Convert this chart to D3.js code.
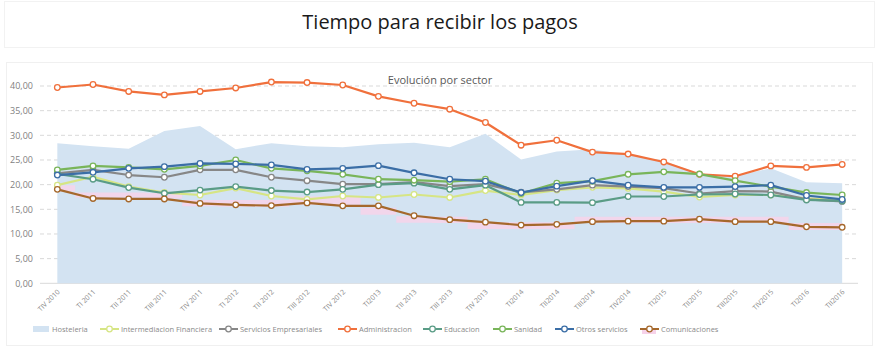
<!DOCTYPE html>
<html><head><meta charset="utf-8">
<script src="https://cdn.jsdelivr.net/npm/d3@7"></script>
<style>body{margin:0;background:#fff}svg{display:block;font-family:"Open Sans",sans-serif}</style>
</head><body><svg id="c" width="880" height="350"></svg>
<script>
const categories = ["TIV 2010","TI 2011","TII 2011","TIII 2011","TIV 2011","TI 2012","TII 2012","TIII 2012","TIV 2012","TI2013","TII 2013","TIII 2013","TIV 2013","TI2014","TII2014","TIII2014","TIV2014","TI2015","TII2015","TIII2015","TIV2015","TI2016","TII2016"];
const hosteleria = [28.4,27.8,27.3,30.9,31.9,27.2,28.4,27.8,27.6,28.2,28.5,27.6,30.3,25.1,26.7,27.2,26.0,24.8,22.2,21.8,23.3,20.5,20.3];
const intermediacion = [19.9,21.6,19.6,18.4,17.9,19.3,17.7,17.0,17.7,17.4,18.0,17.4,18.8,17.9,18.9,19.45,19.25,18.6,17.5,17.9,17.9,17.2,16.8];
const servicios = [22.3,23.0,21.95,21.5,23.0,23.0,21.5,20.8,20.1,20.1,20.5,19.7,20.1,18.45,19.05,19.9,19.6,19.3,18.2,18.7,18.6,17.0,16.6];
const administracion = [39.7,40.3,38.9,38.2,38.9,39.6,40.8,40.7,40.2,37.9,36.5,35.3,32.6,28.0,29.0,26.6,26.2,24.6,22.1,21.7,23.8,23.5,24.1];
const educacion = [22.2,21.1,19.4,18.25,18.9,19.6,18.8,18.5,19.05,20.0,20.3,19.05,19.9,16.4,16.4,16.35,17.6,17.6,18.0,18.1,17.9,16.9,16.7];
const sanidad = [23.0,23.8,23.5,23.1,23.8,25.0,23.3,22.8,22.1,21.1,20.9,20.6,21.1,18.2,20.3,20.7,22.1,22.6,22.15,20.8,19.6,18.4,17.9];
const otros = [21.95,22.5,23.3,23.65,24.3,24.2,24.0,23.1,23.3,23.85,22.4,21.1,20.7,18.4,19.7,20.8,19.9,19.45,19.45,19.6,19.9,17.8,17.0];
const comunicaciones = [19.05,17.2,17.1,17.1,16.2,15.9,15.75,16.3,15.7,15.7,13.7,12.9,12.4,11.8,11.95,12.5,12.6,12.6,13.0,12.5,12.5,11.45,11.35];
const sombraBaja = [18.6,17.4,17.4,17.2,15.6,15.5,15.5,15.9,15.9,13.9,12.3,12.2,11.0,11.0,11.0,12.2,12.2,12.2,12.2,12.2,12.2,10.8,10.8];
const sombraAlta = [19.9,18.4,18.4,18.3,16.9,16.9,16.9,17.6,17.6,15.3,13.6,13.5,12.4,12.4,12.4,13.5,13.5,13.5,13.5,13.5,13.5,12.2,12.2];
const yTicks = [0,5,10,15,20,25,30,35,40];
const seriesNames = ["Hosteleria","Intermediacion Financiera","Servicios Empresariales","Administracion","Educacion","Sanidad","Otros servicios","Comunicaciones"];

const lineSeries = [
  {name:"Intermediacion Financiera", values:intermediacion, color:"#d6e584"},
  {name:"Servicios Empresariales", values:servicios, color:"#878787"},
  {name:"Administracion", values:administracion, color:"#f0703c"},
  {name:"Educacion", values:educacion, color:"#5a9c86"},
  {name:"Sanidad", values:sanidad, color:"#79b55a"},
  {name:"Otros servicios", values:otros, color:"#3b6ea6"},
  {name:"Comunicaciones", values:comunicaciones, color:"#a5682c"}
];
const areaColor = "#d3e3f2", pinkColor = "#f7d3ea";

const svg = d3.select("#c");
const locale = d3.formatLocale({decimal:",", thousands:".", grouping:[3], currency:["","€"]});
const fmt = locale.format(".2f");

// panels
svg.append("rect").attr("x",4.5).attr("y",1.5).attr("width",870).attr("height",46).attr("fill","#fff").attr("stroke","#f2f2f2");
svg.append("rect").attr("x",6.5).attr("y",62.5).attr("width",866).attr("height",283).attr("fill","#fff").attr("stroke","#f0f0f0");

svg.append("text").attr("x",440).attr("y",29).attr("text-anchor","middle").attr("font-size",20).attr("fill","#1a1a1a").text("Tiempo para recibir los pagos");
svg.append("text").attr("x",440).attr("y",84).attr("text-anchor","middle").attr("font-size",11).attr("fill","#595959").text("Evolución por sector");

const x = d3.scaleBand().domain(categories).range([39.5,860]).padding(0);
const cx = c => x(c) + x.bandwidth()/2;
const y = d3.scaleLinear().domain([0,40]).range([283.3,86]);

// grid
const g = svg.append("g");
g.selectAll("line.grid").data(yTicks).join("line")
  .attr("x1",40).attr("x2",858).attr("y1",d=>y(d)).attr("y2",d=>y(d))
  .attr("stroke","#d9d9d9").attr("stroke-width",1)
  .attr("stroke-dasharray",d=>d===0?null:"4,3");
const yAxis = d3.axisLeft(y).tickValues(yTicks).tickFormat(fmt).tickSize(0).tickPadding(0);
const ya = svg.append("g").attr("transform","translate(33,0)").call(yAxis);
ya.select(".domain").remove();
ya.selectAll("text").attr("font-size",9).attr("fill","#7f7f7f").attr("font-family","Open Sans");

// area
const idx = d3.range(categories.length);
svg.append("path").datum(idx)
  .attr("d", d3.area().x(i=>cx(categories[i])).y0(y(0)).y1(i=>y(hosteleria[i])))
  .attr("fill",areaColor);
// pink band
svg.append("path").datum(idx)
  .attr("d", d3.area().curve(d3.curveStep).x(i=>cx(categories[i])).y0(i=>y(sombraBaja[i])).y1(i=>y(sombraAlta[i])))
  .attr("fill",pinkColor).attr("opacity",0.85);

// x labels
const xAxis = d3.axisBottom(x).tickSize(0).tickPadding(0);
const xa = svg.append("g").attr("transform","translate(0,283.3)").call(xAxis);
xa.select(".domain").remove();
xa.selectAll(".tick text").attr("text-anchor","end").attr("font-size",7).attr("fill","#8a8a8a")
  .attr("font-family","Open Sans").attr("dy",null).attr("y",0)
  .attr("transform","translate(3,9) rotate(-45)");

// lines
const line = d3.line().x(i=>cx(categories[i])).y((i,k,arr)=>0);
lineSeries.forEach(s=>{
  const gl = svg.append("g");
  gl.append("path").datum(idx)
    .attr("d", d3.line().x(i=>cx(categories[i])).y(i=>y(s.values[i])))
    .attr("fill","none").attr("stroke",s.color).attr("stroke-width",2.2).attr("stroke-linejoin","round");
  gl.selectAll("circle").data(idx).join("circle")
    .attr("cx",i=>cx(categories[i])).attr("cy",i=>y(s.values[i])).attr("r",2.8)
    .attr("fill","#fff").attr("stroke",s.color).attr("stroke-width",1.3);
});

// legend
const legendX = [33,100,219,338,423,493,555,640];
const ly = 329;
const lg = svg.append("g");
seriesNames.forEach((n,k)=>{
  const lx = legendX[k];
  if(k===0){
    lg.append("rect").attr("x",lx).attr("y",ly-3).attr("width",16).attr("height",6).attr("fill",areaColor);
    lg.append("text").attr("x",lx+19).attr("y",ly+2.5).attr("font-size",7.5).attr("fill","#8a8a8a").text(n);
  } else {
    const s = lineSeries[k-1];
    if(n==="Comunicaciones") lg.append("rect").attr("x",lx+2).attr("y",ly-1).attr("width",14).attr("height",6).attr("fill",pinkColor);
    lg.append("line").attr("x1",lx).attr("x2",lx+19).attr("y1",ly).attr("y2",ly).attr("stroke",s.color).attr("stroke-width",2);
    lg.append("circle").attr("cx",lx+9.5).attr("cy",ly).attr("r",2.8).attr("fill","#fff").attr("stroke",s.color).attr("stroke-width",1.3);
    lg.append("text").attr("x",lx+21).attr("y",ly+2.5).attr("font-size",7.5).attr("fill","#8a8a8a").text(n);
  }
});
</script></body></html>
